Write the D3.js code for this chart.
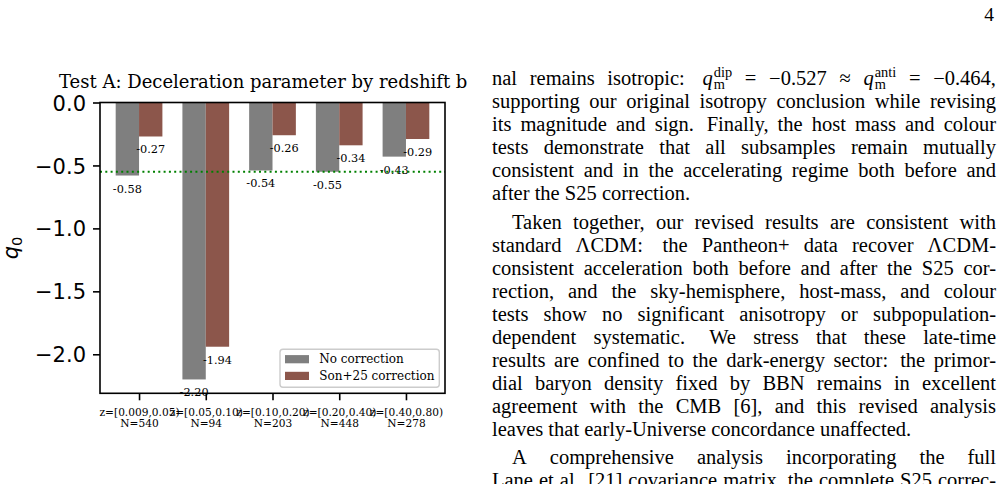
<!DOCTYPE html>
<html>
<head>
<meta charset="utf-8">
<script src="https://cdn.jsdelivr.net/npm/d3@7"></script>
<style>
  html, body { margin: 0; padding: 0; background: #fff; }
  svg { display: block; }
</style>
</head>
<body>
<svg id="page" width="1003" height="484"></svg>
<script>
// Chart values.
const bins = ["z=[0.009,0.05)", "z=[0.05,0.10)", "z=[0.10,0.20)", "z=[0.20,0.40)", "z=[0.40,0.80)"];
const binN = [540, 94, 203, 448, 278];
const qNoCorr = [-0.58, -2.20, -0.54, -0.55, -0.43];
const qSon25 = [-0.27, -1.94, -0.26, -0.34, -0.29];
const qRef = -0.55;
const yTicks = [0.0, -0.5, -1.0, -1.5, -2.0];
const seriesNames = ["No correction", "Son+25 correction"];
const seriesColors = ["#7f7f7f", "#8c564b"];
const chartTitle = "Test A: Deceleration parameter by redshift b";

// Body text of the page column, one entry per typeset line.
const para1 = [
  "nal remains isotropic: q^dip_m = −0.527 ≈ q^anti_m = −0.464,",
  "supporting our original isotropy conclusion while revising",
  "its magnitude and sign. Finally, the host mass and colour",
  "tests demonstrate that all subsamples remain mutually",
  "consistent and in the accelerating regime both before and",
  "after the S25 correction.",
];
const para2 = [
  "Taken together, our revised results are consistent with",
  "standard ΛCDM: the Pantheon+ data recover ΛCDM-",
  "consistent acceleration both before and after the S25 cor-",
  "rection, and the sky-hemisphere, host-mass, and colour",
  "tests show no significant anisotropy or subpopulation-",
  "dependent systematic. We stress that these late-time",
  "results are confined to the dark-energy sector: the primor-",
  "dial baryon density fixed by BBN remains in excellent",
  "agreement with the CMB [6], and this revised analysis",
  "leaves that early-Universe concordance unaffected.",
];
const para3 = [
  "A comprehensive analysis incorporating the full",
  "Lane et al. [21] covariance matrix, the complete S25 correc-",
];
const pageNumber = "4";

const svg = d3.select("#page");

// ---------- chart ----------
const AX = { left: 100, right: 445, top: 102.5, bottom: 393.3 };
const SERIF = "DejaVu Serif", SANS = "DejaVu Sans";
const barW = 0.35;
const nb = bins.length;
const xSpan = (nb - 1) + 2 * barW;
const x = d3.scaleLinear()
  .domain([-barW - 0.05 * xSpan, nb - 1 + barW + 0.05 * xSpan])
  .range([AX.left, AX.right]);
const yMin = d3.min(qNoCorr.concat(qSon25));
const y = d3.scaleLinear().domain([yMin * 1.05, 0]).range([AX.bottom, AX.top]);

const chart = svg.append("g");
const series = [qNoCorr, qSon25];
series.forEach((vals, si) => {
  const off = si === 0 ? -barW : 0;
  const g = chart.append("g");
  g.selectAll("rect").data(vals).enter().append("rect")
    .attr("x", (_, i) => x(i + off))
    .attr("width", x(barW) - x(0))
    .attr("y", y(0))
    .attr("height", d => y(d) - y(0))
    .attr("fill", seriesColors[si]);
  g.selectAll("text").data(vals).enter().append("text")
    .attr("x", (_, i) => x(i + off + barW / 2))
    .attr("y", d => y(d) + 13.5)
    .attr("text-anchor", "middle")
    .attr("dominant-baseline", "central")
    .attr("font-family", SERIF).attr("font-size", 11.3)
    .text(d => d.toFixed(2));
});

// reference q0 line
chart.append("line")
  .attr("x1", AX.left).attr("x2", AX.right)
  .attr("y1", y(qRef)).attr("y2", y(qRef))
  .attr("stroke", "#008000").attr("stroke-width", 2)
  .attr("stroke-dasharray", "2 3.3");

// axes
const yAxis = chart.append("g").attr("transform", `translate(${AX.left},0)`)
  .call(d3.axisLeft(y).tickValues(yTicks).tickSize(7).tickPadding(7)
    .tickFormat(d3.format(".1f")));
yAxis.select(".domain").remove();
yAxis.selectAll(".tick line").attr("stroke", "#000").attr("stroke-width", 1.6);
yAxis.selectAll(".tick text").attr("font-family", SANS).attr("font-size", 21)
  .attr("fill", "#000").attr("dy", "0.36em");

const xAxis = chart.append("g").attr("transform", `translate(0,${AX.bottom})`)
  .call(d3.axisBottom(x).tickValues(d3.range(nb)).tickSize(7).tickFormat(""));
xAxis.select(".domain").remove();
xAxis.selectAll(".tick line").attr("stroke", "#000").attr("stroke-width", 1.6);
xAxis.selectAll(".tick").each(function (i) {
  const t = d3.select(this).append("text")
    .attr("text-anchor", "middle").attr("font-family", SERIF)
    .attr("font-size", 10.6).attr("fill", "#000");
  t.append("tspan").attr("x", 0).attr("y", 22.5).text(bins[i]);
  t.append("tspan").attr("x", 0).attr("y", 34).text(`N=${binN[i]}`);
});

chart.append("rect")
  .attr("x", AX.left).attr("y", AX.top)
  .attr("width", AX.right - AX.left).attr("height", AX.bottom - AX.top)
  .attr("fill", "none").attr("stroke", "#000").attr("stroke-width", 1.6);

// y label q_0
const yl = chart.append("text")
  .attr("transform", `translate(18,${(AX.top + AX.bottom) / 2}) rotate(-90)`)
  .attr("text-anchor", "middle").attr("font-family", SANS).attr("font-size", 21);
yl.append("tspan").attr("font-style", "oblique").text("q");
yl.append("tspan").attr("font-size", 14.7).attr("dy", 4).text("0");

// title (clipped in the page, only this much shows)
chart.append("text")
  .attr("x", 59).attr("y", 88)
  .attr("font-family", SERIF).attr("font-size", 18)
  .text(chartTitle);

// legend
const L = { x: 280, y: 349.3, w: 159.3, h: 38 };
const leg = chart.append("g");
leg.append("rect")
  .attr("x", L.x).attr("y", L.y).attr("width", L.w).attr("height", L.h)
  .attr("rx", 3).attr("fill", "#fff").attr("fill-opacity", 0.8)
  .attr("stroke", "#cccccc").attr("stroke-width", 1.4);
seriesNames.forEach((name, i) => {
  const ry = L.y + 5.8 + i * 16.7;
  leg.append("rect").attr("x", L.x + 5).attr("y", ry)
    .attr("width", 24).attr("height", 8.2).attr("fill", seriesColors[i]);
  leg.append("text").attr("x", L.x + 39.3).attr("y", ry + 8.2)
    .attr("font-family", SERIF).attr("font-size", 12).text(name);
});

// ---------- text column ----------
const COL = { left: 492, right: 996, first: 85, lead: 23.0, parskip: 5.5, indent: 20 };
const colW = COL.right - COL.left;
const TEXTFONT = "Liberation Serif";
const text = svg.append("g").attr("font-family", TEXTFONT).attr("fill", "#000");

function drawWord(g, w, fs) {
  const wg = g.append("g");
  const m = w.match(/^q\^(\w+)_(\w+)$/);
  if (!m) {
    const t = wg.append("text").attr("font-size", fs).text(w);
    return { node: wg, w: t.node().getComputedTextLength() };
  }
  const q = wg.append("text").attr("font-size", fs).attr("font-style", "italic").text("q");
  const qw = q.node().getComputedTextLength() + 1;
  const sup = wg.append("text").attr("x", qw).attr("y", -0.4 * fs)
    .attr("font-size", fs * 0.7).text(m[1]);
  const sub = wg.append("text").attr("x", qw).attr("y", 0.2 * fs)
    .attr("font-size", fs * 0.7).text(m[2]);
  return { node: wg, w: qw + Math.max(sup.node().getComputedTextLength(), sub.node().getComputedTextLength()) };
}

function lineWords(g, str, fs) {
  return str.split(" ").map(w => drawWord(g, w, fs));
}

// Largest font size that lets every justified line keep a reasonable space.
function fitFont(lines, fs0) {
  const tmp = text.append("g").attr("visibility", "hidden");
  let k = 1;
  lines.forEach(({ s, width }) => {
    const ws = lineWords(tmp, s, fs0);
    const need = d3.sum(ws, d => d.w) + (ws.length - 1) * 0.22 * fs0;
    k = Math.min(k, width / need);
  });
  tmp.remove();
  return fs0 * k;
}

const paras = [para1, para2, para3];
const layout = [];
let by = COL.first;
paras.forEach((p, pi) => {
  if (pi > 0) by += COL.parskip;
  p.forEach((s, li) => {
    const ind = pi > 0 && li === 0 ? COL.indent : 0;
    const last = li === p.length - 1 && pi < paras.length - 1;
    layout.push({ s, x: COL.left + ind, width: colW - ind, y: by, justify: !last });
    by += COL.lead;
  });
});

const fs = fitFont(layout.filter(d => d.justify), 20.5);
layout.forEach(d => {
  const g = text.append("g");
  const ws = lineWords(g, d.s, fs);
  // sentence ends get a little more stretch, as TeX does
  const weights = ws.slice(0, -1).map((_, i) => /[.:]$/.test(d.s.split(" ")[i]) ? 1.4 : 1);
  const total = d3.sum(ws, w => w.w);
  const unit = d.justify ? (d.width - total) / d3.sum(weights) : 0.25 * fs;
  let cx = d.x;
  ws.forEach((w, i) => {
    w.node.attr("transform", `translate(${cx},${d.y})`);
    cx += w.w + (i < weights.length ? unit * (d.justify ? weights[i] : 1) : 0);
  });
});

text.append("text")
  .attr("x", COL.right - 2).attr("y", 21)
  .attr("text-anchor", "end").attr("font-size", 19.5)
  .text(pageNumber);
</script>
</body>
</html>
